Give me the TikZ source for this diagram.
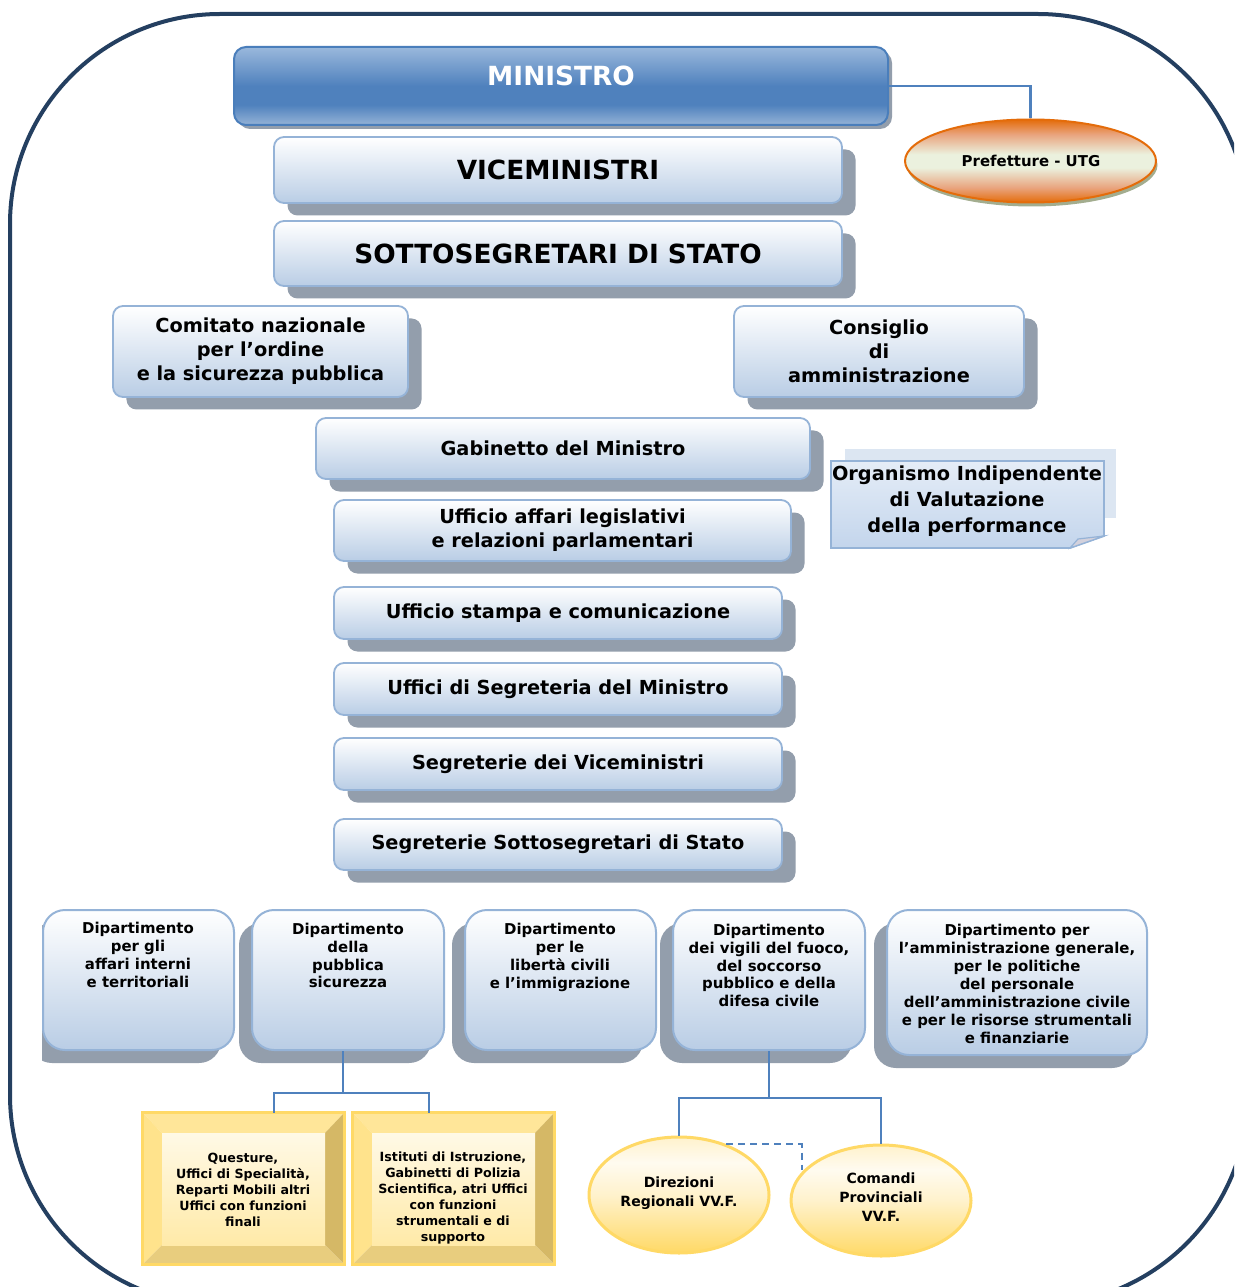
\documentclass[tikz,border=0pt]{standalone}
\usepackage{fontspec}
\setmainfont{DejaVu Sans}
\usetikzlibrary{shadows,shapes.geometric,calc}
\definecolor{framec}{HTML}{243F60}
\definecolor{bordb}{HTML}{95B3D7}
\definecolor{boxb}{HTML}{B9CDE5}
\definecolor{shadg}{HTML}{939EAC}
\definecolor{mdark}{HTML}{4F81BD}
\definecolor{mlight}{HTML}{95B3D7}
\definecolor{mtop}{HTML}{9AB8DC}
\definecolor{mbord}{HTML}{4A7EBB}
\definecolor{connc}{HTML}{4F81BD}
\definecolor{orng}{HTML}{E46C0A}
\definecolor{pinkish}{HTML}{E9A47E}
\definecolor{cream}{HTML}{EBF1DE}
\definecolor{pshad}{HTML}{A3AD8F}
\definecolor{yel}{HTML}{FFD966}
\definecolor{ylt}{HTML}{FFF2CC}
\definecolor{ywh}{HTML}{FFFBF0}
\definecolor{ybtop}{HTML}{FFE699}
\definecolor{ybleft}{HTML}{FFE38C}
\definecolor{ybright}{HTML}{D5B866}
\definecolor{ybbot}{HTML}{E8CD7E}
\definecolor{ypantop}{HTML}{FFF9E6}
\definecolor{ypanbot}{HTML}{FFEAA8}
\definecolor{orgback}{HTML}{DCE6F2}
\definecolor{orgtop}{HTML}{E5EDF7}
\definecolor{orgbot}{HTML}{C3D5EC}
\definecolor{foldc}{HTML}{D3D1DC}
\newlength\pxu
\setlength\pxu{0.02cm}
\newcommand\myfs[2]{\fontsize{#1}{#2}\selectfont\bfseries}
\pgfdeclareverticalshading{minsh}{100bp}{color(0bp)=(mlight); color(25bp)=(mlight); color(38bp)=(mdark); color(50bp)=(mdark); color(75bp)=(mtop); color(100bp)=(mtop)}
\pgfdeclareverticalshading{prefsh}{100bp}{color(0bp)=(orng); color(25bp)=(orng); color(34bp)=(pinkish); color(46bp)=(cream); color(54bp)=(cream); color(66bp)=(pinkish); color(75bp)=(orng); color(100bp)=(orng)}
\pgfdeclareverticalshading{ellsh}{100bp}{color(0bp)=(yel); color(25bp)=(yel); color(50bp)=(ylt); color(64bp)=(ywh); color(75bp)=(ylt); color(100bp)=(ylt)}
\tikzset{
 conn/.style={draw=connc, line width=2.5*\pxu},
 lbox/.style={draw=bordb, line width=1.8*\pxu, rounded corners=10*\pxu, top color=white, bottom color=boxb, inner sep=0pt, align=center, font=\myfs{11}{13.6}, drop shadow={shadow xshift=0.27cm, shadow yshift=-0.25cm, fill=shadg, opacity=1}},
 mbox/.style={draw=mbord, line width=2*\pxu, rounded corners=12*\pxu, shading=minsh, inner sep=0pt, drop shadow={shadow xshift=0.08cm, shadow yshift=-0.08cm, fill=shadg, opacity=1}},
 dbox/.style={draw=bordb, line width=2*\pxu, rounded corners=22*\pxu, top color=white, bottom color=boxb, inner sep=0pt},
 dshadow/.style={drop shadow={shadow xshift=-0.26cm, shadow yshift=-0.26cm, fill=shadg, opacity=1}},
 dtxt/.style={font=\myfs{8.5}{10.2}, align=center, inner sep=0pt},
 ytxt/.style={font=\myfs{7.2}{9}, align=center, inner sep=0pt},
 etxt/.style={font=\myfs{8}{11}, align=center, inner sep=0pt},
 yout/.style={rectangle, inner sep=0pt, minimum width=201*\pxu, minimum height=151*\pxu},
 ypanel/.style={rectangle, inner sep=0pt, top color=ypantop, bottom color=ypanbot, minimum width=163*\pxu, minimum height=112*\pxu},
 yell/.style={ellipse, draw=yel, line width=3*\pxu, shading=ellsh, inner sep=0pt}
}
\newcommand\ybox[4]{%
 \node[yout] (#1) at (#2+100.5,1188.5) {};
 \fill[ybtop] (#2,1113) -- (#2+201,1113) -- (#2+182,1133) -- (#2+19,1133) -- cycle;
 \fill[ybleft] (#2,1113) -- (#2+19,1133) -- (#2+19,1245) -- (#2,1264) -- cycle;
 \fill[ybright] (#2+201,1113) -- (#2+201,1264) -- (#2+182,1245) -- (#2+182,1133) -- cycle;
 \fill[ybbot] (#2,1264) -- (#2+19,1245) -- (#2+182,1245) -- (#2+201,1264) -- cycle;
 \node[ypanel] (#1in) at (#2+100.5,1189) {};
 \draw[yel, line width=3*\pxu] (#1.north west) rectangle (#1.south east);
 \node[ytxt] (#1t) at (#2+100,#3) {#4};
}
\begin{document}
\begin{tikzpicture}[x=0.02cm,y=-0.02cm]
\useasboundingbox (0,0) rectangle (1234,1287);
\clip (0,0) rectangle (1234,1287);
\fill[white] (0,0) rectangle (1234,1287);
% outer frame
\draw[framec, line width=4*\pxu, rounded corners=210*\pxu] (10,14) rectangle (1248,1305);

% top
\node[mbox, minimum width=654*\pxu, minimum height=78*\pxu] (min) at (561,86) {};
\node[font=\myfs{15}{18}, text=white, inner sep=0pt] (mint) at (561,76) {MINISTRO};

\node[ellipse, draw=orng, line width=2*\pxu, shading=prefsh, inner sep=0pt,
      minimum width=251*\pxu, minimum height=83*\pxu,
      drop shadow={shadow xshift=0.03cm, shadow yshift=-0.08cm, fill=pshad, opacity=1}]
      (pref) at (1030.5,161) {};
\node[font=\myfs{8.5}{10}, inner sep=0pt] (preft) at (1031,161) {Prefetture - UTG};
\draw[conn] (min.east) -| (pref.north);

\node[lbox, minimum width=568*\pxu, minimum height=66*\pxu, font=\myfs{15}{18}] (vice) at (558,170) {VICEMINISTRI};
\node[lbox, minimum width=568*\pxu, minimum height=65*\pxu, font=\myfs{15}{18}] (sotto) at (558,253.5) {SOTTOSEGRETARI DI STATO};

\node[lbox, minimum width=295*\pxu, minimum height=91*\pxu] (comit) at (260.5,351.5) {Comitato nazionale\\per l’ordine\\e la sicurezza pubblica};
\node[lbox, minimum width=290*\pxu, minimum height=91*\pxu] (consig) at (879,351.5) {Consiglio\\di\\amministrazione};

\node[lbox, minimum width=494*\pxu, minimum height=61*\pxu] (gab) at (563,448.5) {Gabinetto del Ministro};
\node[lbox, minimum width=457*\pxu, minimum height=61*\pxu] (ual) at (562.5,530.5) {Ufficio affari legislativi\\e relazioni parlamentari};
\node[lbox, minimum width=448*\pxu, minimum height=52*\pxu] (stampa) at (558,613) {Ufficio stampa e comunicazione};
\node[lbox, minimum width=448*\pxu, minimum height=52*\pxu] (segmin) at (558,689) {Uffici di Segreteria del Ministro};
\node[lbox, minimum width=448*\pxu, minimum height=52*\pxu] (segvice) at (558,764) {Segreterie dei Viceministri};
\node[lbox, minimum width=448*\pxu, minimum height=51*\pxu] (segsot) at (558,844.5) {Segreterie Sottosegretari di Stato};

% Organismo (paper note)
\fill[orgback] (845,449) rectangle (1116,518);
\shade[top color=orgtop, bottom color=orgbot, draw=bordb, line width=1.8*\pxu]
  (831,461) -- (1104,461) -- (1104,536) -- (1070,548) -- (831,548) -- cycle;
\filldraw[fill=foldc, draw=bordb, line width=1.2*\pxu] (1104,536) -- (1078,539) -- (1070,548) -- cycle;
\node[font=\myfs{11}{14.7}, align=center, inner sep=0pt] (org) at (967,501) {Organismo Indipendente\\di Valutazione\\della performance};

% departments
\begin{scope}
\clip (42,0) rectangle (1234,1287);
\fill[shadg, rounded corners=22*\pxu] (30,923) rectangle (221,1063);
\end{scope}
\node[dbox, minimum width=191*\pxu, minimum height=140*\pxu] (d1) at (138.5,980) {};
\node[dbox, dshadow, minimum width=192*\pxu, minimum height=140*\pxu] (d2) at (348,980) {};
\node[dbox, dshadow, minimum width=191*\pxu, minimum height=140*\pxu] (d3) at (560.5,980) {};
\node[dbox, dshadow, minimum width=192*\pxu, minimum height=140*\pxu] (d4) at (769,980) {};
\node[dbox, dshadow, minimum width=260*\pxu, minimum height=145*\pxu] (d5) at (1017,982.5) {};
\node[dtxt] (d1t) at (138,955) {Dipartimento\\per gli\\affari interni\\e territoriali};
\node[dtxt] (d2t) at (348,955.5) {Dipartimento\\della\\pubblica\\sicurezza};
\node[dtxt] (d3t) at (560,957.5) {Dipartimento\\per le\\libertà civili\\e l’immigrazione};
\node[dtxt] (d4t) at (769,965.5) {Dipartimento\\dei vigili del fuoco,\\del soccorso\\pubblico e della\\difesa civile};
\node[dtxt] (d5t) at (1017,984) {Dipartimento per\\l’amministrazione generale,\\per le politiche\\del personale\\dell’amministrazione civile\\e per le risorse strumentali\\e finanziarie};

% yellow boxes
\ybox{yb1}{143}{1190}{Questure,\\Uffici di Specialità,\\Reparti Mobili altri\\Uffici con funzioni\\finali}
\ybox{yb2}{353}{1198}{Istituti di Istruzione,\\Gabinetti di Polizia\\Scientifica, atri Uffici\\con funzioni\\strumentali e di\\supporto}

\coordinate (j1) at (343,1093);
\coordinate (xl) at (274,1093);
\coordinate (xr) at (429,1093);
\draw[conn] (d2.south -| j1) -- (j1);
\draw[conn] (yb1.north -| xl) -- (xl) -- (xr) -- (yb2.north -| xr);

% ellipses
\node[yell, minimum width=180*\pxu, minimum height=116*\pxu] (e1) at (679,1195) {};
\node[yell, minimum width=180*\pxu, minimum height=111*\pxu] (e2) at (881,1200.5) {};
\node[etxt] (e1t) at (679,1193) {Direzioni\\Regionali VV.F.};
\node[etxt] (e2t) at (881,1197) {Comandi\\Provinciali\\VV.F.};

\coordinate (j2) at (769,1098);
\draw[conn] (d4.south) -- (j2);
\draw[conn] (e1.north) |- (j2) -| (e2.north);
\coordinate (dc) at (802,1145);
\coordinate (dce) at (802,1170);
\draw[conn, dash pattern=on 0.14cm off 0.1cm] (e1.47) -- (e1.47 -| dc) -- (dce);
\end{tikzpicture}
\end{document}
